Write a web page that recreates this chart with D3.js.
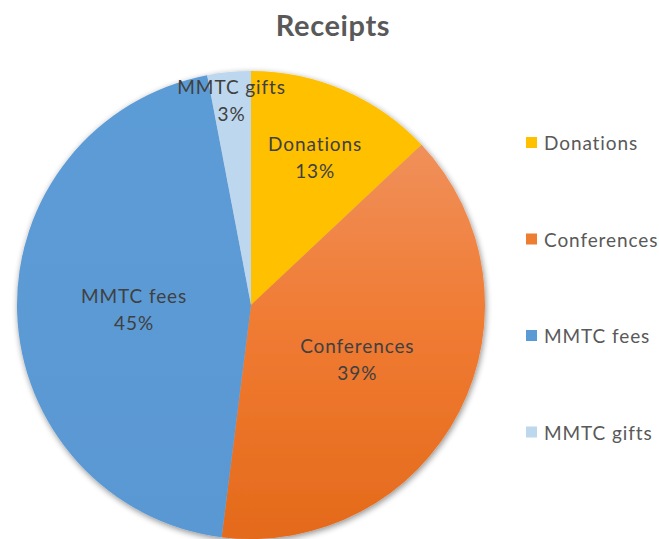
<!DOCTYPE html>
<html><head><meta charset="utf-8">
<script src="https://cdn.jsdelivr.net/npm/d3@7"></script>
<style>body{margin:0;background:#fff;}svg{display:block;}</style>
</head><body>
<svg id="chart" width="659" height="539"></svg>
<script>
const categories = ["Donations", "Conferences", "MMTC fees", "MMTC gifts"];
const values = [13, 39, 45, 3];
const colors = ["#FFC000", "#ED7D31", "#5B9BD5", "#BDD7EE"];
const labelRadiusFactor = [0.69, 0.51, 0.5, 0.88];
const title = "Receipts";

const W = 659, H = 539;
const cx = 251, cy = 305, R = 234;
const FONT = "Lato, 'Open Sans', sans-serif";
const svg = d3.select("#chart");
const defs = svg.append("defs");

const f = defs.append("filter").attr("id","shadow").attr("x","-10%").attr("y","-10%").attr("width","120%").attr("height","120%");
f.append("feGaussianBlur").attr("in","SourceAlpha").attr("stdDeviation",3).attr("result","b");
f.append("feOffset").attr("in","b").attr("dx",1).attr("dy",2).attr("result","o");
f.append("feComponentTransfer").attr("in","o").attr("result","o2").append("feFuncA").attr("type","linear").attr("slope",0.45);
const m = f.append("feMerge"); m.append("feMergeNode").attr("in","o2"); m.append("feMergeNode").attr("in","SourceGraphic");

// per-slice gradients (Office-like shading, top lighter)
const gradStops = [
  [["0%","#FFC000"],["100%","#FFC000"]],
  [["0%","#F0905A"],["45%","#F07B33"],["100%","#E46A1A"]],
  [["0%","#5C9CD6"],["100%","#5A98D3"]],
  [["0%","#BDD7EE"],["100%","#BDD7EE"]]
];
colors.forEach((c,i)=>{
  const g = defs.append("linearGradient").attr("id","g"+i).attr("x1",0).attr("y1",0).attr("x2",0).attr("y2",1);
  gradStops[i].forEach(s=>g.append("stop").attr("offset",s[0]).attr("stop-color",s[1]));
});

svg.append("text").attr("x", 333).attr("y", 36).attr("text-anchor","middle")
  .attr("font-family",FONT).attr("font-weight","bold").attr("letter-spacing",0.6)
  .attr("font-size", 29).attr("fill","#595959").text(title);

const pie = d3.pie().sort(null).value(d=>d)(values);
const arc = d3.arc().innerRadius(0).outerRadius(R);

const g = svg.append("g").attr("transform",`translate(${cx},${cy})`);
g.append("g").attr("filter","url(#shadow)").selectAll("path").data(pie).join("path")
  .attr("d", arc).attr("fill",(d,i)=>`url(#g${i})`);

const lab = g.selectAll("g.lab").data(pie).join("g").attr("class","lab")
  .attr("transform",(d,i)=>{
    const a = (d.startAngle+d.endAngle)/2; const r = R*labelRadiusFactor[i];
    return `translate(${r*Math.sin(a)},${-r*Math.cos(a)})`;
  });
lab.append("text").attr("text-anchor","middle").attr("y",-6)
  .attr("font-family",FONT).attr("font-size",19).attr("letter-spacing",0.9).attr("fill","#404040")
  .text((d,i)=>categories[i]);
lab.append("text").attr("text-anchor","middle").attr("y",21)
  .attr("font-family",FONT).attr("font-size",19).attr("letter-spacing",0.9).attr("fill","#404040")
  .text(d=>Math.round(d.value/d3.sum(values)*100)+"%");

const leg = svg.append("g").selectAll("g").data(categories).join("g")
  .attr("transform",(d,i)=>`translate(526,${143 + i*96.5})`);
leg.append("rect").attr("x",0).attr("y",-6).attr("width",11).attr("height",11).attr("fill",(d,i)=>colors[i]);
leg.append("text").attr("x",18).attr("y",7).attr("font-family",FONT)
  .attr("font-size",19).attr("letter-spacing",0.9).attr("fill","#595959").text(d=>d);
</script>
</body></html>
